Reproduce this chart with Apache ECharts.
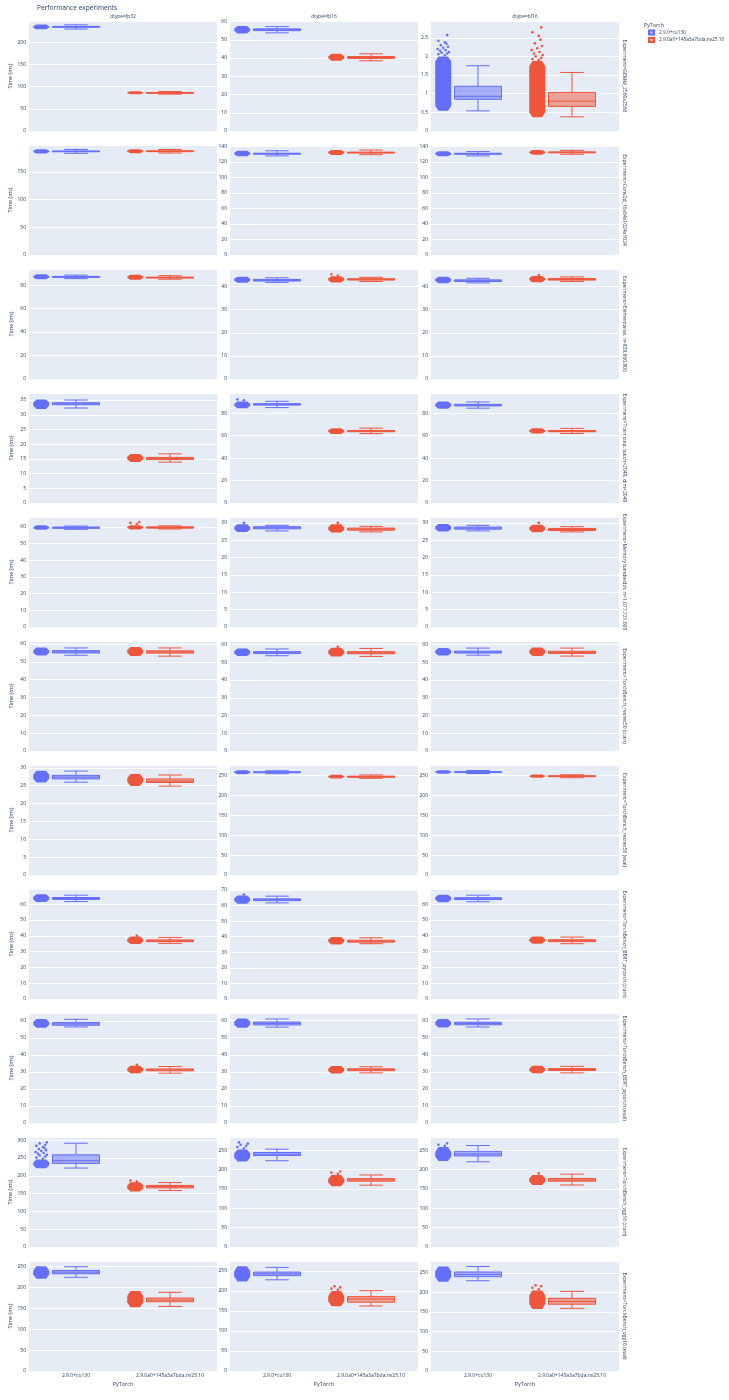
<!DOCTYPE html>
<html><head><meta charset="utf-8">
<script src="https://cdn.jsdelivr.net/npm/echarts@6/dist/echarts.min.js"></script>
<style>html,body{margin:0;padding:0;background:#fff}#c{width:729px;height:1400px}</style>
</head><body><div id="c"></div>
<script>
// ---------------- data ----------------
const versions = ['2.9.0+cu130', '2.9.0a0+145a3a7bda.nv25.10'];
const dtypes = ['dtype=fp32', 'dtype=fp16', 'dtype=bf16'];
const experiments = [
  'Experiment=GEMM_2560x2560',
  'Experiment=Conv2d_16x64x1024x1024',
  'Experiment=Elementwise, n=838,860,800',
  'Experiment=Train step, batch=2048, dim=2048',
  'Experiment=Memory bandwidth, n=1,677,721,600',
  'Experiment=TorchBench_resnet50 (train)',
  'Experiment=TorchBench_resnet50 (eval)',
  'Experiment=TorchBench_BERT_pytorch (train)',
  'Experiment=TorchBench_BERT_pytorch (eval)',
  'Experiment=TorchBench_vgg16 (train)',
  'Experiment=TorchBench_vgg16 (eval)'
];
const yMax = [
  [247.6, 60.3, 2.95], [198.5, 142, 142], [93.7, 47.6, 47.6], [37.4, 98, 98],
  [66, 31.7, 31.7], [61.7, 62, 62], [30.8, 277, 277], [69.6, 70.6, 69.6],
  [64.7, 64.5, 64.5], [309, 284, 284], [263.7, 275, 280]
];
const yStep = [
  [50, 10, 0.5], [50, 20, 20], [20, 10, 10], [5, 20, 20], [10, 5, 5], [10, 10, 10],
  [5, 50, 50], [10, 10, 10], [10, 10, 10], [50, 50, 50], [50, 50, 50]
];
// box stats: [min, q1, median, q3, max]
const cu130Box = [
  [[229.5,233.5,234.5,235.5,239],[53.8,55.0,55.5,56.0,57.2],[0.54,0.85,0.93,1.2,1.75]],
  [[183.5,186.3,187,187.7,190.5],[128,130.2,130.8,131.4,134.5],[128,130.1,130.7,131.3,133.5]],
  [[85.5,86.6,87,87.4,88.5],[41.8,42.4,42.7,43.1,43.8],[41.6,42.2,42.5,42.9,43.6]],
  [[32.3,33.4,33.7,34.1,35.0],[85,87.2,87.9,88.5,90.6],[84.5,86.5,87.2,87.9,90]],
  [[58.6,59.2,59.6,60,60.6],[27.7,28.3,28.6,28.9,29.3],[27.7,28.2,28.5,28.8,29.3]],
  [[53.7,55,55.6,56.3,57.8],[53.7,54.9,55.4,56,57.5],[54,55.2,55.7,56.3,58]],
  [[26,26.9,27.4,27.9,29.1],[255,257.5,258.7,260,262.5],[255.5,258,259,260.3,263]],
  [[61.7,63,63.6,64.2,65.7],[61.7,63.1,63.7,64.3,66],[61.5,62.9,63.5,64.1,65.7]],
  [[56.5,57.5,58.3,59.2,61],[56.2,57.5,58.4,59.2,61],[56.3,57.6,58.3,59.1,61]],
  [[221.8,234.9,242.4,259,291.5],[222.8,236,239.5,244,252.6],[220,235,240,247,262]],
  [[224.6,233,237,241,250],[228,238.5,243,247.5,259],[229.7,240,246,252,266]]
];
const nvBox = [
  [[83,85.3,86,86.7,89],[38.5,39.8,40.3,40.8,42.3],[0.38,0.66,0.80,1.03,1.57]],
  [[184,186.5,187.2,188,190.5],[129.5,131.6,132.2,132.8,135.5],[130,131.9,132.5,133.1,135]],
  [[85,86,86.4,86.8,88],[42.2,42.8,43.1,43.4,44],[42.2,42.8,43.1,43.5,44.2]],
  [[13.9,14.8,15.2,15.5,16.7],[61.8,63.5,64.1,64.6,66.7],[62,63.5,64,64.6,66.5]],
  [[58.8,59.3,59.7,60.1,60.7],[27.4,27.9,28.2,28.5,29.0],[27.4,27.8,28.1,28.4,28.9]],
  [[53.2,54.9,55.5,56.2,57.8],[53.3,54.8,55.4,56,57.8],[53.5,55,55.6,56.2,58]],
  [[24.9,25.9,26.3,26.9,28],[243.5,246,247.5,249,252],[245,247.5,248.7,250,252.5]],
  [[35.2,36.3,36.8,37.4,39],[35.5,36.5,37.1,37.7,39.3],[35,36.3,36.9,37.5,39.2]],
  [[29.3,30.7,31.2,31.8,33.2],[29.4,30.7,31.2,31.8,33],[29.4,30.8,31.3,31.9,33.2]],
  [[158.8,166,170,173,181],[159.6,170,173.2,176.5,186],[160,170,173,177,188]],
  [[155,166,170,175,188.6],[162.5,172,180,186,200.8],[159.4,170,177,185,202.7]]
];
// dense point cloud extent: [low, high]
const cu130Cloud = [
  [[229,239.5],[53.5,57.5],[0.54,2.0]],
  [[183,191],[127.5,134.5],[127.5,134]],
  [[85,89.3],[41.6,44.3],[41.4,44.3]],
  [[32,35.2],[84.5,90.5],[84,90.5]],
  [[58.3,61],[27.4,29.6],[27.5,29.7]],
  [[53.5,58],[53.5,57.8],[53.8,58]],
  [[25.9,29.2],[254,264],[255,264]],
  [[61.3,66.2],[61.2,66.5],[61.2,66]],
  [[56,61.2],[55.8,61.3],[56,61]],
  [[221,246],[221,252],[222,258]],
  [[221,251],[224,262],[227,266]]
];
const nvCloud = [
  [[82.5,89.5],[38.5,42.3],[0.37,1.88]],
  [[183.5,191],[129,135.5],[129.5,135.5]],
  [[84.5,88.8],[41.8,44.5],[41.9,44.6]],
  [[13.9,16.7],[61.5,66.5],[62,66.5]],
  [[58.5,61],[27.2,29.6],[27.3,29.5]],
  [[53.3,58.3],[53.2,58.2],[53.5,58.3]],
  [[24.9,28.3],[243,252.5],[245,253]],
  [[34.8,39.5],[35,39.8],[35,39.5]],
  [[29.2,33.6],[29,33.4],[29.2,33.5]],
  [[156,182],[157,186],[160,186]],
  [[153,192],[162,200],[158,205]]
];
// sparse individual points outside the dense cloud
const cu130Sparse = [
  [[],[],[2.03,2.06,2.08,2.1,2.12,2.15,2.17,2.2,2.23,2.26,2.3,2.34,2.38,2.42,2.57]],
  [[],[],[]],
  [[],[],[]],
  [[],[91.5,92.3],[]],
  [[],[30],[]],
  [[],[],[]],
  [[],[],[]],
  [[],[67],[]],
  [[],[],[]],
  [[248,251,254,257,259,262,264,267,270,272,275,278,281,284,287,291,294],[255,258,261,264,267,270],[261,264,268]],
  [[],[],[]]
];
const nvSparse = [
  [[],[],[1.9,1.93,1.96,2.0,2.04,2.08,2.12,2.17,2.22,2.28,2.35,2.45,2.55,2.65,2.78]],
  [[],[],[]],
  [[],[44.8,45.3],[45]],
  [[],[],[]],
  [[61.8,62.5,63],[30],[30]],
  [[],[58.7],[]],
  [[],[],[]],
  [[40],[],[]],
  [[34.2],[],[]],
  [[184,187],[189,192,195],[190]],
  [[],[203,206,209,212],[208,212,216,218]]
];

// ---------------- layout / style ----------------
const L = { left0: 29, colPitch: 201, w: 188, top0: 21, rowPitch: 124, h: 110 };
const LINE = ['#636efa', '#EF553B'];
const FILL = ['rgba(99,110,250,0.5)', 'rgba(239,85,59,0.5)'];
const TXT = '#2a3f5f';
const FONT = 'Open Sans';
const JIT = [0.1, -0.3, 0.25, -0.1, 0.35, -0.2, 0.15, -0.35, 0.0, 0.3, -0.15, 0.2];

function boxRender(k) {
  return function (params, api) {
    const cat = api.value(0);
    const v = [1, 2, 3, 4, 5, 6, 7].map(i => api.value(i));
    const band = api.size([1, 0])[0];
    const yOf = val => api.coord([cat, val])[1];
    const cx = api.coord([cat, v[2]])[0];
    const bw = band * 0.5, cw = bw * 0.5;
    const pcx = cx - band * 0.37, pw = band * 0.17;
    let yLo = yOf(v[5]), yHi = yOf(v[6]);
    if (yLo - yHi < 3) { const m = (yLo + yHi) / 2; yLo = m + 1.5; yHi = m - 1.5; }
    const t = Math.min((yLo - yHi) * 0.35, 5);
    const a = pw * 0.3, b = pw / 2;
    const pts = [[pcx - a, yHi], [pcx + a, yHi], [pcx + b, yHi + t], [pcx + b, yLo - t],
                 [pcx + a, yLo], [pcx - a, yLo], [pcx - b, yLo - t], [pcx - b, yHi + t]];
    const yq1 = yOf(v[1]), yq3 = yOf(v[3]), ymed = yOf(v[2]), ymin = yOf(v[0]), ymax = yOf(v[4]);
    const ln = (x1, y1, x2, y2) => ({ type: 'line', shape: { x1, y1, x2, y2 }, style: { stroke: LINE[k], lineWidth: 1 } });
    return {
      type: 'group',
      children: [
        { type: 'polygon', shape: { points: pts }, style: { fill: LINE[k] } },
        { type: 'rect', shape: { x: cx - bw / 2, y: yq3, width: bw, height: Math.max(yq1 - yq3, 0.8) },
          style: { fill: FILL[k], stroke: LINE[k], lineWidth: 1 } },
        ln(cx - bw / 2, ymed, cx + bw / 2, ymed),
        ln(cx, yq3, cx, ymax), ln(cx, yq1, cx, ymin),
        ln(cx - cw / 2, ymax, cx + cw / 2, ymax), ln(cx - cw / 2, ymin, cx + cw / 2, ymin)
      ]
    };
  };
}
function sparseRender(k) {
  return function (params, api) {
    const cat = api.value(0);
    const band = api.size([1, 0])[0];
    const p = api.coord([cat, api.value(1)]);
    const pcx = p[0] - band * 0.37, pw = band * 0.17;
    return { type: 'circle', shape: { cx: pcx + JIT[params.dataIndex % JIT.length] * pw, cy: p[1], r: 1.3 },
             style: { fill: LINE[k] } };
  };
}

const grids = [], xAxes = [], yAxes = [], series = [], graphics = [];
for (let r = 0; r < experiments.length; r++) {
  for (let c = 0; c < dtypes.length; c++) {
    const g = r * 3 + c;
    const left = L.left0 + c * L.colPitch, top = L.top0 + r * L.rowPitch;
    grids.push({ left, top, width: L.w, height: L.h, show: true, backgroundColor: '#E5ECF6',
                 borderWidth: 0, containLabel: false, outerBoundsMode: 'none' });
    const last = r === experiments.length - 1;
    xAxes.push({
      type: 'category', gridIndex: g, data: versions, boundaryGap: true,
      axisLine: { show: false }, axisTick: { show: false }, splitLine: { show: false },
      axisLabel: { show: last, interval: 0, fontSize: 5, color: TXT, margin: 2, fontFamily: FONT },
      name: last ? 'PyTorch' : '', nameLocation: 'middle', nameGap: 10,
      nameTextStyle: { fontSize: 5.5, color: TXT, fontFamily: FONT }
    });
    const step = yStep[r][c];
    yAxes.push({
      type: 'value', gridIndex: g, min: 0, max: yMax[r][c], interval: step,
      axisLine: { show: false }, axisTick: { show: false },
      splitLine: { show: true, lineStyle: { color: '#ffffff', width: 1 } },
      axisLabel: { fontSize: 5, color: TXT, margin: 3, fontFamily: FONT,
        formatter: val => { const q = val / step; return Math.abs(q - Math.round(q)) < 1e-6 ? String(+val.toFixed(2)) : ''; } },
      name: c === 0 ? 'Time (ms)' : '', nameLocation: 'middle', nameGap: 15,
      nameTextStyle: { fontSize: 5.5, color: TXT, fontFamily: FONT }
    });
    const boxes = [cu130Box, nvBox], clouds = [cu130Cloud, nvCloud], sparse = [cu130Sparse, nvSparse];
    for (let k = 0; k < 2; k++) {
      series.push({
        type: 'custom', name: versions[k], xAxisIndex: g, yAxisIndex: g,
        itemStyle: { color: FILL[k], borderColor: LINE[k], borderWidth: 1 },
        renderItem: boxRender(k), encode: { x: 0, y: 1 },
        data: [[k, ...boxes[k][r][c], ...clouds[k][r][c]]]
      });
      if (sparse[k][r][c].length) {
        series.push({
          type: 'custom', name: versions[k], xAxisIndex: g, yAxisIndex: g,
          itemStyle: { color: FILL[k], borderColor: LINE[k], borderWidth: 1 },
          renderItem: sparseRender(k), encode: { x: 0, y: 1 },
          data: sparse[k][r][c].map(val => [k, val])
        });
      }
    }
    if (r === 0) {
      graphics.push({ type: 'text', x: left + L.w / 2, y: 16.5,
        style: { text: dtypes[c], fontSize: 4.8, fill: TXT, align: 'center', verticalAlign: 'middle', fontFamily: FONT } });
    }
    if (c === dtypes.length - 1) {
      graphics.push({ type: 'text', x: left + L.w + 5, y: top + L.h / 2, rotation: -Math.PI / 2,
        style: { text: experiments[r], fontSize: 5, fill: TXT, align: 'center', verticalAlign: 'middle', fontFamily: FONT } });
    }
  }
}
graphics.push({ type: 'text', x: 37, y: 8.3,
  style: { text: 'Performance experiments', fontSize: 6.6, fill: TXT, align: 'left', verticalAlign: 'middle', fontFamily: FONT } });
graphics.push({ type: 'text', x: 644, y: 25,
  style: { text: 'PyTorch', fontSize: 5.3, fill: TXT, align: 'left', verticalAlign: 'middle', fontFamily: FONT } });

const chart = echarts.init(document.getElementById('c'), null, { renderer: 'canvas' });
chart.setOption({
  animation: false,
  backgroundColor: '#ffffff',
  textStyle: { fontFamily: FONT },
  legend: {
    orient: 'vertical', left: 648, top: 29.5, padding: 0, itemGap: 1.5,
    itemWidth: 5, itemHeight: 4, icon: 'rect', selectedMode: false,
    textStyle: { fontSize: 4.8, color: TXT, fontFamily: FONT },
    data: versions
  },
  grid: grids, xAxis: xAxes, yAxis: yAxes, series, graphic: graphics
});
</script></body></html>
